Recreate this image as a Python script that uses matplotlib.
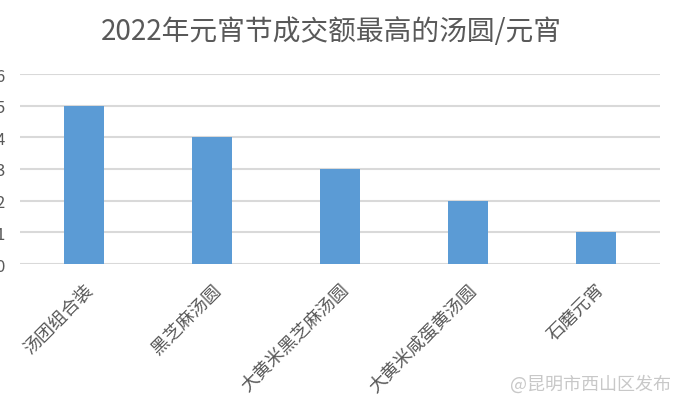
import matplotlib
matplotlib.use("Agg")
import matplotlib.pyplot as plt

plt.rcParams['font.family'] = ['Noto Sans CJK SC', 'DejaVu Sans']

names = ["汤团组合装", "黑芝麻汤圆", "大黄米黑芝麻汤圆", "大黄米咸蛋黄汤圆", "石磨元宵"]
values = [5, 4, 3, 2, 1]
yticks = [0, 1, 2, 3, 4, 5, 6]

fig = plt.figure(figsize=(6.78, 4.02), dpi=100)
ax = fig.add_axes([20 / 678, 1 - 265 / 402, 640 / 678, 190 / 402])

x = list(range(len(names)))
ax.bar(x, values, width=0.31, color="#5b9bd5", zorder=3)
ax.set_xlim(-0.5, len(names) - 0.5)
ax.set_ylim(0, 6)
ax.set_yticks(yticks)
ax.grid(axis="y", color="#d9d9d9", linewidth=1.5, zorder=0)
for s in ax.spines.values():
    s.set_visible(False)
ax.tick_params(axis="both", length=0, colors="#595959")
ax.tick_params(axis="y", labelsize=12, pad=11)
ax.set_xticks(x)
ax.set_xticklabels(names, rotation=45, ha="right", rotation_mode="anchor",
                   fontsize=13, color="#595959")
ax.tick_params(axis="x", pad=12)

fig.text(331 / 678, 1 - 32 / 402, "2022年元宵节成交额最高的汤圆/元宵", ha="center", va="center",
         fontsize=20, color="#595959")
fig.text(0.99, 1 - 385 / 402, "@昆明市西山区发布", ha="right", va="center",
         fontsize=13, color="#c8c8c8")

fig.savefig("out.png", dpi=100)
